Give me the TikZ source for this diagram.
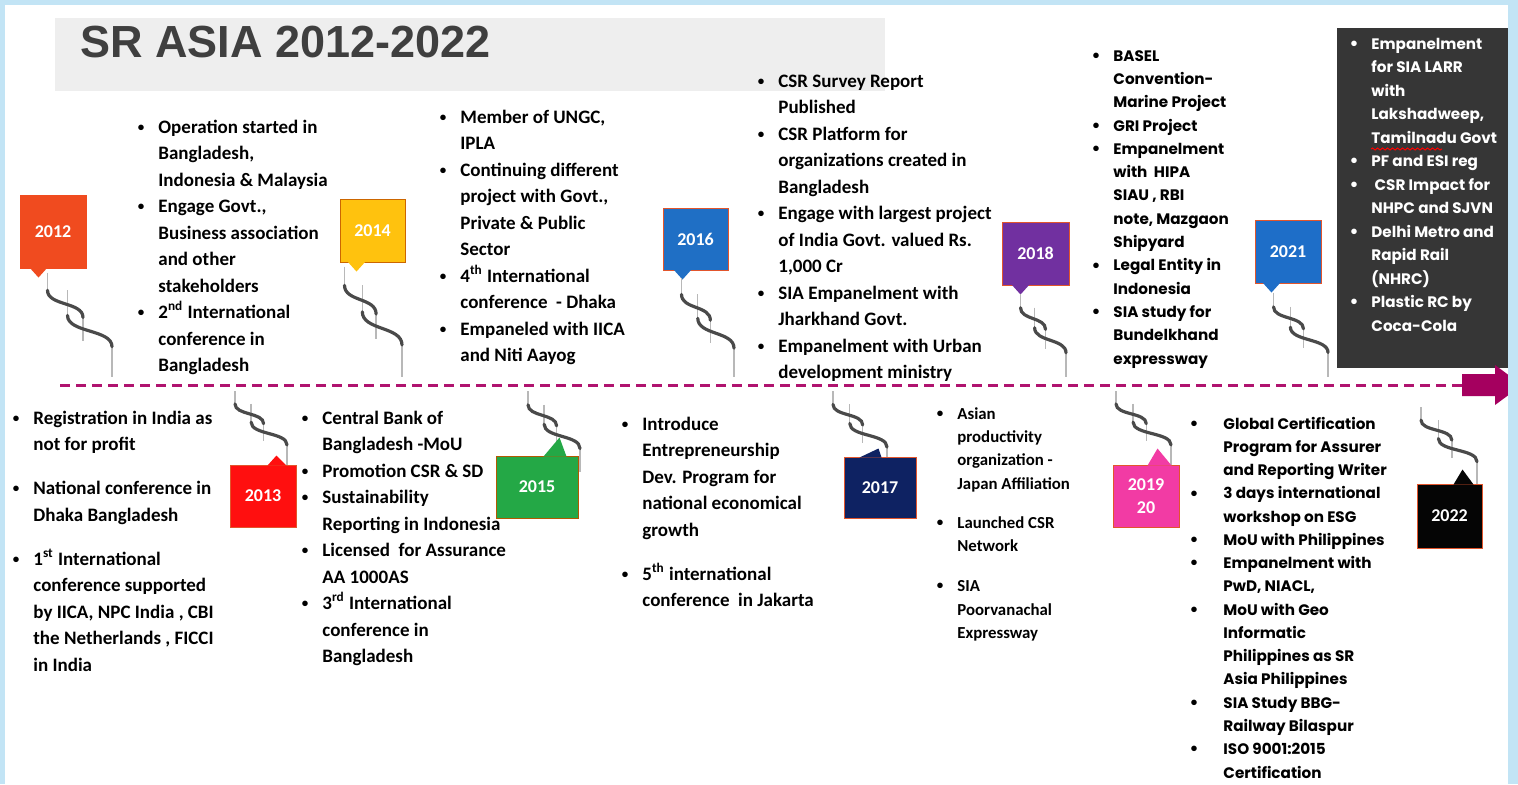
\documentclass[tikz,border=0pt]{standalone}
\usepackage{fontspec}
\setmainfont{Carlito}
\newfontfamily\gothic{Poppins}
\newfontfamily\headfont{Liberation Sans}
\usetikzlibrary{calc,decorations.pathmorphing}

\definecolor{frame}{HTML}{C2E4F5}
\definecolor{band}{HTML}{EEEEEE}
\definecolor{headgray}{HTML}{3F3F3F}
\definecolor{panel}{HTML}{363636}
\definecolor{tlmag}{HTML}{B0136F}
\definecolor{arrowmag}{HTML}{A5005F}
\definecolor{ropedark}{HTML}{4A4A4A}
\definecolor{ropelight}{HTML}{B8B8B8}
\definecolor{edge}{HTML}{E2552C}
\definecolor{c12}{HTML}{F04B1F}
\definecolor{c13}{HTML}{FF0F0F}
\definecolor{c14}{HTML}{FFC20E}
\definecolor{c15}{HTML}{24A846}
\definecolor{c16}{HTML}{1F6FC5}
\definecolor{c17}{HTML}{0E2262}
\definecolor{c18}{HTML}{7130A0}
\definecolor{c19}{HTML}{F23BA4}
\definecolor{c21}{HTML}{1E6EC8}
\definecolor{c22}{HTML}{050505}

% bullets hang left of the text column
\newcommand{\smalldot}{\raisebox{0.9pt}{\rmfamily\fontsize{6.5}{6.5}\selectfont\textbullet}}
\newcommand{\itm}{\llap{\smalldot\hskip 7pt}}
\newcommand{\itmw}{\llap{\smalldot\hskip 13pt}}

% twisted cord between a year tag and the time line
\newcommand{\ropetwist}[2]{%
  \draw[strand] let \p1=(#1), \p2=(#2), \n1={\x2-\x1}, \n2={\y2-\y1} in
    (\x1,\y1) -- (\x1,{\y1+0.17*\n2})
    ({\x1+0.31*\n1},{\y1+0.17*\n2}) -- ({\x1+0.31*\n1},{\y1+0.40*\n2})
    ({\x1+0.55*\n1},{\y1+0.43*\n2}) -- ({\x1+0.55*\n1},{\y1+0.66*\n2})
    (\x2,{\y1+0.71*\n2}) -- (\x2,\y2);
  \draw[twine] let \p1=(#1), \p2=(#2), \n1={\x2-\x1}, \n2={\y2-\y1} in
    (\x1,{\y1+0.17*\n2}) .. controls (\x1,{\y1+0.32*\n2}) and ({\x1+0.55*\n1},{\y1+0.28*\n2}) .. ({\x1+0.55*\n1},{\y1+0.43*\n2})
    ({\x1+0.31*\n1},{\y1+0.41*\n2}) .. controls ({\x1+0.31*\n1},{\y1+0.58*\n2}) and (\x2,{\y1+0.54*\n2}) .. (\x2,{\y1+0.71*\n2});
}

\begin{document}
\begin{tikzpicture}[x=0.5pt,y=-0.5pt,
    yearbox/.style={fill=#1, draw=edge, line width=0.5pt, inner sep=0pt, text=white,
      align=center, font=\bfseries\fontsize{9}{11.5}\selectfont},
    strand/.style={draw=ropelight, line width=0.7pt},
    twine/.style={draw=ropedark, line width=1.6pt, line cap=round},
    % notes are placed by the baseline of their last line
    items/.style={anchor=base west, align=left, inner sep=0pt,
      font=\bfseries\fontsize{9.5}{13.25}\selectfont},
    gitems/.style={anchor=base west, align=left, inner sep=0pt,
      font=\gothic\bfseries\fontsize{7.6}{11.65}\selectfont},
    timeline/.style={draw=tlmag, line width=1.5pt, dash pattern=on 5pt off 3pt}]

  \useasboundingbox (0,0) rectangle (1518,784);
  \fill[frame] (0,0) rectangle (1518,784);
  \fill[white] (5,5) rectangle (1508,784);

  % heading
  \node[fill=band, minimum width=415pt, minimum height=36.5pt, inner sep=0pt] (band) at (470,54.5) {};
  \node[anchor=base west, inner sep=0pt, text=headgray, font=\headfont\bfseries\fontsize{22.5}{22.5}\selectfont] (title) at (80,57) {SR ASIA 2012-2022};

  % dark panel for 2021
  \node[fill=panel, minimum width=85.5pt, minimum height=170pt, inner sep=0pt] (panel) at (1422.5,198) {};

  % time line
  \coordinate (tl0) at (60,385);
  \coordinate (tl1) at (1462,385);
  \draw[timeline] (tl0) -- (tl1);
  \fill[arrowmag] (1462,374) -- (1495,374) -- (1495,365) -- (1522,385) -- (1495,405) -- (1495,396) -- (1462,396) -- cycle;

  % year tags above the line
  \node[yearbox=c12, draw=c12, minimum width=33pt, minimum height=36.5pt] (y2012) at (53,231.5) {2012};
  \node[yearbox=c14, draw=orange!80!black, minimum width=32.5pt, minimum height=31.5pt] (y2014) at (372.5,230.5) {2014};
  \node[yearbox=c16, minimum width=32.5pt, minimum height=31pt] (y2016) at (695.5,239) {2016};
  \node[yearbox=c18, minimum width=33.5pt, minimum height=31.5pt] (y2018) at (1035.5,253.5) {2018};
  \node[yearbox=c21, minimum width=33pt, minimum height=31.5pt] (y2021) at (1288,251.5) {2021};

  \fill[c12] ($(y2012.south west)+(10,-1)$) -- ++(9,10) -- ++(9,-10) -- cycle;
  \fill[c14] ($(y2014.south west)+(8,-1)$) -- ++(9,10) -- ++(9,-10) -- cycle;
  \fill[c16] ($(y2016.south west)+(11,-1)$) -- ++(9,10) -- ++(9,-10) -- cycle;
  \fill[c18] ($(y2018.south west)+(10,-1)$) -- ++(9,10) -- ++(9,-10) -- cycle;
  \fill[c21] ($(y2021.south west)+(8,-1)$) -- ++(9,10) -- ++(9,-10) -- cycle;

  \coordinate (k2012) at ($(y2012.south west)+(28,4)$);
  \coordinate (k2014) at ($(y2014.south west)+(5,4)$);
  \coordinate (k2016) at ($(y2016.south west)+(19,7)$);
  \coordinate (k2018) at ($(y2018.south west)+(19,8)$);
  \coordinate (k2021) at ($(y2021.south west)+(19,9)$);
  \coordinate (t2012) at (112,377);
  \coordinate (t2014) at (402,377);
  \coordinate (t2016) at (734,377);
  \coordinate (t2018) at (1066,377);
  \coordinate (t2021) at (1328,377);
  \ropetwist{k2012}{t2012}
  \ropetwist{k2014}{t2014}
  \ropetwist{k2016}{t2016}
  \ropetwist{k2018}{t2018}
  \ropetwist{k2021}{t2021}

  % year tags below the line
  \coordinate (t2013) at (235,391);
  \coordinate (t2015) at (528,391);
  \coordinate (t2017) at (833,391);
  \coordinate (t2019) at (1116,391);
  \coordinate (t2022) at (1421,407);
  \coordinate (k2013) at (287,467);
  \coordinate (k2015) at (580,472);
  \coordinate (k2017) at (887,470);
  \coordinate (k2019) at (1171,467);
  \coordinate (k2022) at (1477,484);
  \ropetwist{t2013}{k2013}
  \ropetwist{t2015}{k2015}
  \ropetwist{t2017}{k2017}
  \ropetwist{t2019}{k2019}
  \ropetwist{t2022}{k2022}

  \node[yearbox=c13, minimum width=33pt, minimum height=31pt] (y2013) at (263,496) {2013};
  \node[yearbox=c15, draw=orange!70!black, minimum width=41pt, minimum height=31pt] (y2015) at (537,487) {2015};
  \node[yearbox=c17, minimum width=36pt, minimum height=30.5pt] (y2017) at (880,487.5) {2017};
  \node[yearbox=c19, minimum width=33pt, minimum height=31pt] (y2019) at (1146,496) {2019\\20};
  \node[yearbox=c22, minimum width=32.5pt, minimum height=32pt] (y2022) at (1449.5,516) {2022};

  \fill[c13] ($(y2013.north west)+(38,1)$) -- ++(9,-10) -- ++(10,10) -- cycle;
  \fill[c15] ($(y2015.north west)+(48,1)$) -- ++(16,-19) -- ++(7,19) -- cycle;
  \fill[c17] ($(y2017.north west)+(16,1)$) -- ++(19,-9) -- ++(3,9) -- cycle;
  \fill[c19] ($(y2019.north west)+(35,1)$) -- ++(10,-17) -- ++(14,17) -- cycle;
  \fill[c22] ($(y2022.north west)+(37,1)$) -- ++(9,-15) -- ++(11,15) -- cycle;

  % notes above the line
  \node[items] (up12) at (158,371.5) {\itm Operation started in\\ Bangladesh,\\ Indonesia \& Malaysia\\
    \itm Engage Govt.,\\ Business association\\ and other\\ stakeholders\\
    \itm 2\textsuperscript{nd} International\\ conference in\\ Bangladesh};
  \node[items] (up14) at (460,361.5) {\itm Member of UNGC,\\ IPLA\\ \itm Continuing different\\
    project with Govt.,\\ Private \& Public\\ Sector\\ \itm 4\textsuperscript{th} International\\
    conference\ \ - Dhaka\\ \itm Empaneled with IICA\\ and Niti Aayog};
  \node[items] (up16) at (778,378.5) {\itm CSR Survey Report\\ Published\\ \itm CSR Platform for\\
    organizations created in\\ Bangladesh\\ \itm Engage with largest project\\
    of India Govt. valued Rs.\\ 1,000 Cr\\ \itm SIA Empanelment with\\ Jharkhand Govt.\\
    \itm Empanelment with Urban\\ development ministry};
  \node[gitems] (up18) at (1113,364) {\itm BASEL\\ Convention-\\ Marine Project\\ \itm GRI Project\\
    \itm Empanelment\\ with\ \ HIPA\\ SIAU , RBI\\ note, Mazgaon\\ Shipyard\\
    \itm Legal Entity in\\ Indonesia\\ \itm SIA study for\\ Bundelkhand\\ expressway};
  \node[gitems, text=white, font=\gothic\bfseries\fontsize{7.6}{11.75}\selectfont] (up21) at (1371,331)
    {\itm Empanelment\\ for SIA LARR\\ with\\ Lakshadweep,\\ Tamilnadu Govt\\ \itm PF and ESI reg\\
    \itm\ CSR Impact for\\ NHPC and SJVN\\ \itm Delhi Metro and\\ Rapid Rail\\ (NHRC)\\
    \itm Plastic RC by\\ Coca-Cola};
  \draw[red, line width=0.5pt, decorate, decoration={snake, amplitude=0.5pt, segment length=2.5pt}]
    (1371,149) -- (1442,149);

  % notes below the line
  \node[items] (lo12) at (33,671) {\itm Registration in India as\\ not for profit\\[8.75pt]
    \itm National conference in\\ Dhaka Bangladesh\\[8.75pt]
    \itm 1\textsuperscript{st} International\\ conference supported\\ by IICA, NPC India , CBI\\
    the Netherlands , FICCI\\ in India};
  \node[items] (lo13) at (322,662.5) {\itm Central Bank of\\ Bangladesh -MoU\\ \itm Promotion CSR \& SD\\
    \itm Sustainability\\ Reporting in Indonesia\\ \itm Licensed\ \ for Assurance\\ AA 1000AS\\
    \itm 3\textsuperscript{rd} International\\ conference in\\ Bangladesh};
  \node[items] (lo15) at (642,606.5) {\itm Introduce\\ Entrepreneurship\\ Dev. Program for\\
    national economical\\ growth\\[8.75pt] \itm 5\textsuperscript{th} international\\ conference\ \ in Jakarta};
  \node[items, font=\bfseries\fontsize{8.4}{11.7}\selectfont] (lo17) at (957,638.4) {\itm Asian\\ productivity\\
    organization -\\ Japan Affiliation\\[7.8pt] \itm Launched CSR\\ Network\\[8.3pt]
    \itm SIA\\ Poorvanachal\\ Expressway};
  \node[gitems, font=\gothic\bfseries\fontsize{7.6}{11.63}\selectfont] (lo19) at (1223,778)
    {\itmw Global Certification\\ Program for Assurer\\ and Reporting Writer\\
    \itmw 3 days international\\ workshop on ESG\\ \itmw MoU with Philippines\\
    \itmw Empanelment with\\ PwD, NIACL,\\ \itmw MoU with Geo\\ Informatic\\ Philippines as SR\\
    Asia Philippines\\ \itmw SIA Study BBG-\\ Railway Bilaspur\\ \itmw ISO 9001:2015\\ Certification};

  % frame edge over the arrow tip
  \fill[frame] (1508,0) rectangle (1518,784);
\end{tikzpicture}
\end{document}
